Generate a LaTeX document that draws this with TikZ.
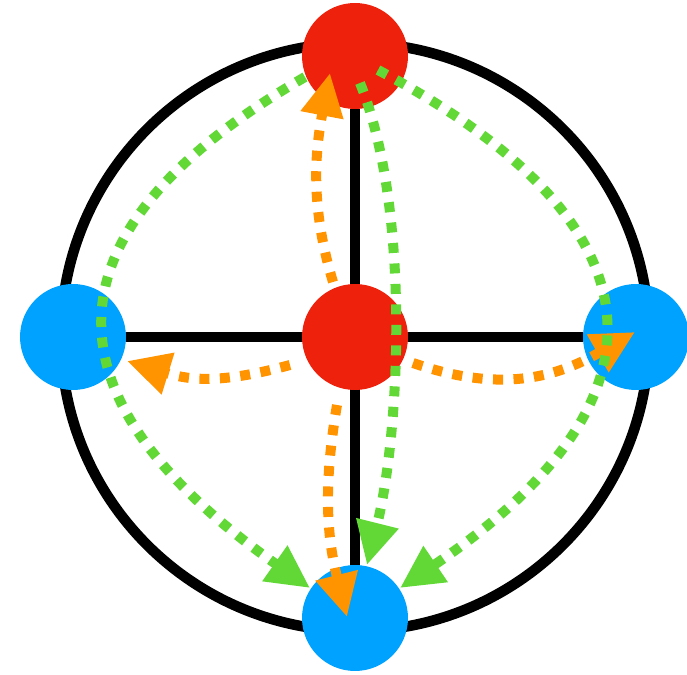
\documentclass[tikz,border=0pt]{standalone}
\usetikzlibrary{arrows.meta,calc,backgrounds}
\definecolor{kred}{HTML}{EE220C}
\definecolor{kblue}{HTML}{00A2FF}
\definecolor{kgreen}{HTML}{61D836}
\definecolor{korange}{HTML}{FF9300}
\begin{document}
\begin{tikzpicture}[x=0.02cm,y=-0.02cm,
  disc/.style={circle,minimum size=2.12cm,inner sep=0pt,draw=none},
  rednode/.style={disc,fill=kred},
  bluenode/.style={disc,fill=kblue},
  frame/.style={line width=0.21cm,draw=black},
  flow/.style={line width=0.2cm,dash pattern=on 0.2cm off 0.21cm,-{Triangle[length=0.86cm,width=0.82cm]}},
  gflow/.style={flow,draw=kgreen},
  oflow/.style={flow,draw=korange}]
\useasboundingbox (0,0) rectangle (687,675);
\coordinate (O) at (355,337);
\node[rednode] (T) at (355,56) {};
\node[rednode] (C) at (355,337) {};
\node[bluenode] (L) at (73,337) {};
\node[bluenode] (R) at (636,337) {};
\node[bluenode] (B) at (355,618) {};
\begin{scope}[on background layer]
  \draw[frame] (O) circle[radius=294];
  \draw[frame] (L) -- (R);
  \draw[frame] (T) -- (B);
\end{scope}
% orange flows
\draw[oflow] ($(C)+(-22,-55)$) .. controls +(-23,-76) and +(-15,79) .. ($(T)+(-25,17)$);
\draw[oflow] ($(C)+(-65,28)$) .. controls +(-66,18) and +(65,20) .. ($(L)+(54,24)$);
\draw[oflow] ($(C)+(58,26)$) .. controls +(87,30) and +(-80,46) .. ($(R)+(-1,-5)$);
\draw[oflow] ($(C)+(-18,68)$) .. controls +(-14,82) and +(-20,-80) .. ($(B)+(-8,-1)$);
% green flows
\draw[gflow] ($(T)+(-50,21)$) .. controls +(-277,160) and +(-262,-184) .. ($(B)+(-45,-30)$);
\draw[gflow] ($(T)+(23,14)$) .. controls +(294,156) and +(276,-186) .. ($(B)+(45,-30)$);
\draw[gflow] ($(T)+(5,27)$) .. controls +(51,126) and +(33,-132) .. ($(B)+(12,-53)$);
\end{tikzpicture}
\end{document}
